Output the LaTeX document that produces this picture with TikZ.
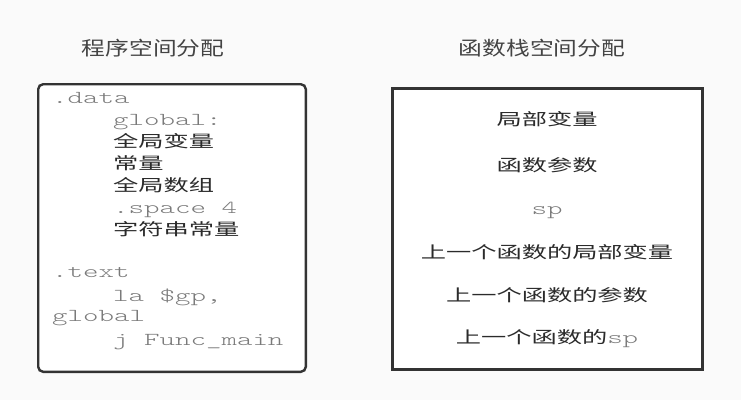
\documentclass[tikz,border=0pt]{standalone}
\usepackage{fontspec}
\newfontfamily\cjkbox[FakeStretch=1.53]{Noto Sans CJK SC}
\newfontfamily\cjktitle[FakeStretch=1.23]{Noto Sans CJK SC}
\newfontfamily\monof[FakeStretch=1.62]{lmmonolt10-regular.otf}
\definecolor{bgcol}{HTML}{FAFAFA}
\definecolor{edgecol}{HTML}{333333}
\definecolor{monogray}{HTML}{7A7A7A}
\definecolor{cjkdark}{HTML}{2B2B2B}
\definecolor{titlecol}{HTML}{444444}
\newcommand{\monosize}{\monof\fontsize{18.2}{20}\selectfont}
\newcommand{\cjksize}{\cjkbox\fontsize{16.5}{20}\selectfont}
\newcommand{\msp}[1]{{\monosize\color{monogray}#1}}
\tikzset{
  monotxt/.style={anchor=base west, inner sep=0pt, font=\monosize, text=monogray},
  cjktxt/.style={anchor=base west, inner sep=0pt, font=\cjksize, text=cjkdark},
  midtxt/.style={anchor=base, inner sep=0pt, font=\cjksize, text=cjkdark},
  titletxt/.style={anchor=base, inner sep=0pt, font=\cjktitle\fontsize{19.3}{22}\selectfont, text=titlecol},
  boxframe/.style={draw=edgecol, fill=white},
}
\begin{document}
\begin{tikzpicture}[x=1pt, y=-1pt]
\useasboundingbox[fill=bgcol] (0,0) rectangle (741,400);
% titles
\node[titletxt] (t1) at (153,55.8) {程序空间分配};
\node[titletxt] (t2) at (542,55.8) {函数栈空间分配};
% boxes
\draw[boxframe, line width=2.4pt, rounded corners=5pt] (38.2,84.2) rectangle (305.8,371.8);
\draw[boxframe, line width=3pt] (392.5,88.5) rectangle (702.5,369.5);
% left box contents
\node[monotxt] (l1) at (52,103) {.data};
\node[monotxt] (l2) at (113,125) {global:};
\node[cjktxt]  (l3) at (113,147.3) {全局变量};
\node[cjktxt]  (l4) at (113,169.3) {常量};
\node[cjktxt]  (l5) at (113,191.3) {全局数组};
\node[monotxt] (l6) at (113,213) {.space 4};
\node[cjktxt]  (l7) at (113,235.3) {字符串常量};
\node[monotxt] (l8) at (52,277) {.text};
\node[monotxt] (l9) at (113,301) {la \$gp,};
\node[monotxt] (l10) at (52,321) {global};
\node[monotxt] (l11) at (113,345) {j Func\_main};
% right box contents
\node[midtxt] (r1) at (547,125.3) {局部变量};
\node[midtxt] (r2) at (547,171.3) {函数参数};
\node[midtxt] (r3) at (547,214) {\msp{sp}};
\node[midtxt] (r4) at (547,258.3) {上一个函数的局部变量};
\node[midtxt] (r5) at (547,301.3) {上一个函数的参数};
\node[midtxt] (r6) at (547,343.3) {上一个函数的\msp{sp}};
\end{tikzpicture}
\end{document}
